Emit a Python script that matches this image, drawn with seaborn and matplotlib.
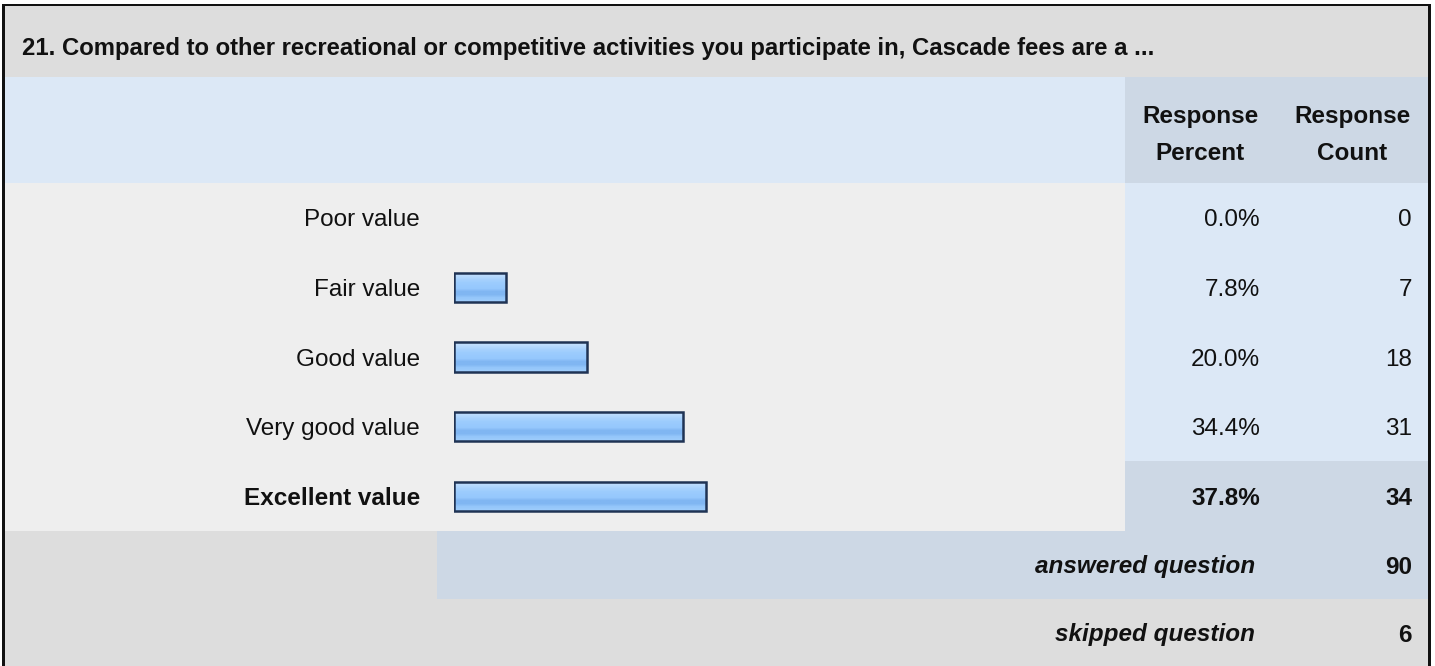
import matplotlib
matplotlib.use("Agg")
import numpy as np
import pandas as pd
import matplotlib.pyplot as plt
import matplotlib.transforms as mtransforms
from matplotlib.patches import Rectangle
from matplotlib.colors import to_rgb
import seaborn as sns

# survey data
question = ("21. Compared to other recreational or competitive activities you "
            "participate in, Cascade fees are a ...")
answers = ["Poor value", "Fair value", "Good value", "Very good value", "Excellent value"]
percents = [0.0, 7.8, 20.0, 34.4, 37.8]
counts = [0, 7, 18, 31, 34]
answered_count = 90
skipped_count = 6

df = pd.DataFrame({"answer": answers, "percent": percents, "count": counts})

sns.set_theme(style="white")
plt.rcParams["font.family"] = ["Liberation Sans", "DejaVu Sans"]

W, H = 1435, 666
FS = 17.5
TXT = "#111111"
fig = plt.figure(figsize=(W / 100, H / 100), dpi=100)
fig.patch.set_facecolor("white")

# background axes in pixel units for the table cells
bg = fig.add_axes([0, 0, 1, 1])
bg.set_xlim(0, W)
bg.set_ylim(H, 0)
bg.axis("off")


def cell(x0, y0, x1, y1, color):
    bg.add_patch(Rectangle((x0, y0), x1 - x0, y1 - y0, facecolor=color,
                           edgecolor="none", lw=0))


gray, light, blue, blue_dark = "#dddddd", "#eeeeee", "#dce8f6", "#cdd8e5"
cell(5, 6, 1428, 77, gray)          # title row
cell(5, 77, 1125, 183, blue)        # header row
cell(1125, 77, 1428, 183, blue_dark)
cell(5, 183, 1125, 531, light)      # answers
cell(1125, 183, 1428, 461, blue)
cell(1125, 461, 1428, 531, blue_dark)
cell(5, 531, 437, 599, gray)        # answered question
cell(437, 531, 1428, 599, blue_dark)
cell(5, 599, 1428, H, gray)         # skipped question
# outer frame
cell(2, 4, 5, H, "#111111")
cell(2, 4, 1431, 6, "#111111")
cell(1428, 4, 1431, H, "#111111")

bg.text(22, 48, question, fontsize=17.2, fontweight="bold", color=TXT,
        ha="left", va="center")
for cx, word in [(1200, "Percent"), (1352, "Count")]:
    bg.text(cx, 116, "Response", fontsize=FS, fontweight="bold", color=TXT,
            ha="center", va="center")
    bg.text(cx, 153, word, fontsize=FS, fontweight="bold", color=TXT,
            ha="center", va="center")

bg.text(1255, 567, "answered question", fontsize=FS, fontweight="bold",
        fontstyle="italic", color=TXT, ha="right", va="center")
bg.text(1412, 567, str(answered_count), fontsize=FS, fontweight="bold",
        color=TXT, ha="right", va="center")
bg.text(1255, 635, "skipped question", fontsize=FS, fontweight="bold",
        fontstyle="italic", color=TXT, ha="right", va="center")
bg.text(1412, 635, str(skipped_count), fontsize=FS, fontweight="bold",
        color=TXT, ha="right", va="center")

# bar area: 0-100% across the answer column
ax = fig.add_axes([454 / W, 1 - 531 / H, (1121 - 454) / W, (531 - 183) / H])
ax.patch.set_alpha(0)
sns.barplot(data=df, x="percent", y="answer", orient="h", ax=ax,
            color="#99cafe", width=0.42, edgecolor="#1f3354", linewidth=1.8)

# glossy stripes inside each bar
stripes = ["#c6e1fd", "#b6d9fd", "#a7d1fd", "#9dcdfd", "#99cafe", "#96c8fd",
           "#80b6f2", "#80b6f2", "#94c6fa", "#9ccbfb"]
img = np.array([to_rgb(c) for c in stripes]).reshape(-1, 1, 3)
for p in list(ax.patches):
    w = p.get_width()
    if w <= 0:
        p.set_visible(False)
        continue
    x0, y0, h = p.get_x(), p.get_y(), p.get_height()
    im = ax.imshow(img, extent=(x0, x0 + w, y0 + h, y0), aspect="auto",
                   interpolation="bilinear", zorder=2)
    im.set_clip_path(p)
    p.set_facecolor("none")
    p.set_zorder(3)

ax.set_xlim(0, 100)
ax.set_ylim(len(answers) - 0.5, -0.5)
ax.set_xlabel("")
ax.set_ylabel("")
ax.set_xticks([])
ax.tick_params(axis="y", length=0, pad=24.5, labelsize=FS, labelcolor=TXT)
ax.get_yticklabels()[-1].set_fontweight("bold")
sns.despine(ax=ax, left=True, bottom=True)

# percent and count columns
blend = mtransforms.blended_transform_factory(bg.transData, ax.transData)
for i, (pct, cnt) in enumerate(zip(percents, counts)):
    weight = "bold" if i == len(answers) - 1 else "normal"
    ax.text(1260, i, f"{pct:.1f}%", transform=blend, ha="right",
            va="center_baseline", fontsize=FS, fontweight=weight, color=TXT)
    ax.text(1412, i, str(cnt), transform=blend, ha="right",
            va="center_baseline", fontsize=FS, fontweight=weight, color=TXT)

fig.savefig("out.png", dpi=100)
